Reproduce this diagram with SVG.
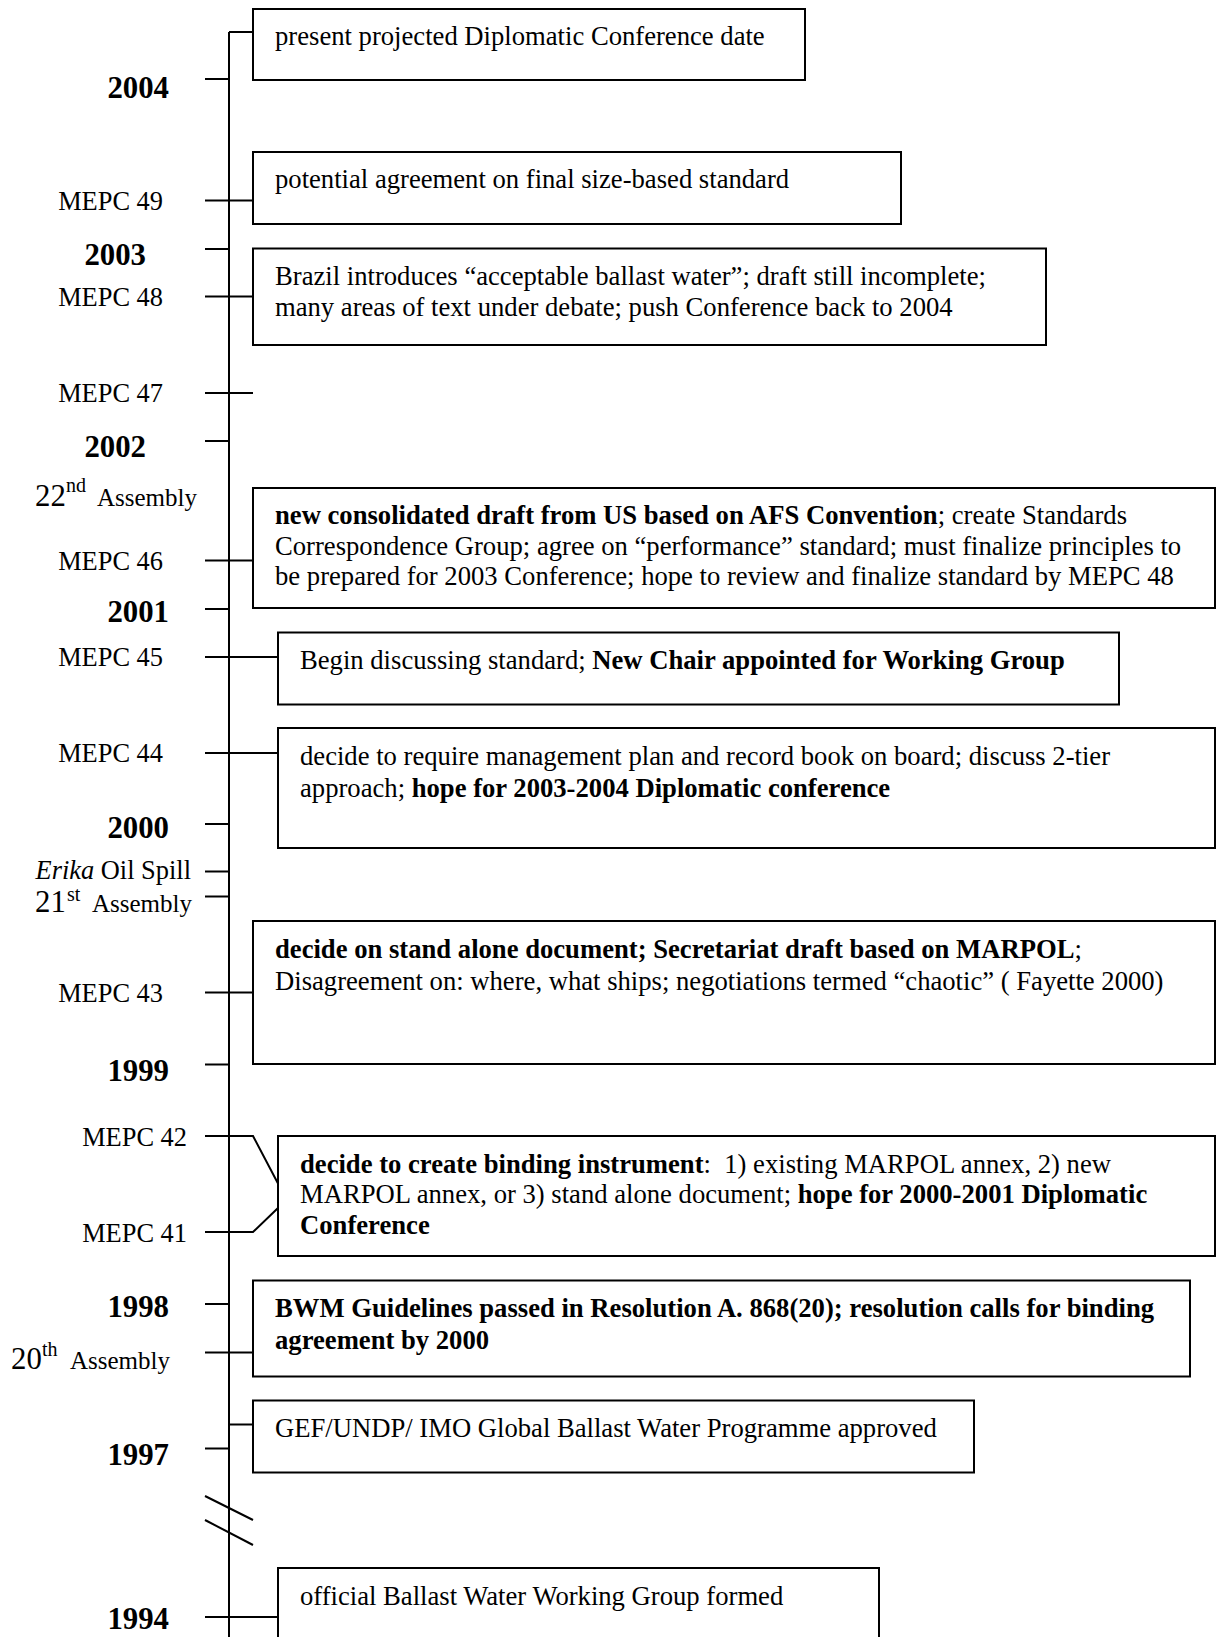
<svg xmlns="http://www.w3.org/2000/svg" width="1218" height="1637" viewBox="0 0 1218 1637">
<style>
text{font-family:"Liberation Serif","Times New Roman",serif;fill:#000}
.t{font-size:26.65px}
.b{font-weight:bold}
.yr{font-size:30.8px;font-weight:bold;text-anchor:end}
.lb{font-size:26.4px;text-anchor:end}
.big{font-size:30.8px}
.sup{font-size:20px}
.asm{font-size:25px}
.box{fill:#fff;stroke:#000;stroke-width:2}
.ln{fill:none;stroke:#000;stroke-width:2}
</style>
<rect width="1218" height="1637" fill="#fff"/>
<g id="connectors">
<path class="ln" d="M229,32 V1637"/>
<path class="ln" d="M229,32 H253"/>
<path class="ln" d="M205,79 H229"/>
<path class="ln" d="M205,200.5 H253"/>
<path class="ln" d="M205,249 H229"/>
<path class="ln" d="M205,296.5 H253"/>
<path class="ln" d="M205,393 H253"/>
<path class="ln" d="M205,441 H229"/>
<path class="ln" d="M205,560.5 H253"/>
<path class="ln" d="M205,609 H229"/>
<path class="ln" d="M205,657 H278"/>
<path class="ln" d="M205,753 H278"/>
<path class="ln" d="M205,824 H229"/>
<path class="ln" d="M205,871.5 H229"/>
<path class="ln" d="M205,896.5 H229"/>
<path class="ln" d="M205,992.5 H253"/>
<path class="ln" d="M205,1064.5 H229"/>
<path class="ln" d="M205,1136 H253 L278,1183.5"/>
<path class="ln" d="M205,1232 H253 L278,1208"/>
<path class="ln" d="M205,1304 H229"/>
<path class="ln" d="M205,1352.5 H253"/>
<path class="ln" d="M229,1424.5 H253"/>
<path class="ln" d="M205,1448.5 H229"/>
<path class="ln" d="M205,1496 L253,1520"/>
<path class="ln" d="M205,1520 L253,1545"/>
<path class="ln" d="M205,1617 H278"/>
</g>
<g id="labels">
<g id="y2004"><text class="yr" x="169" y="98">2004</text></g>
<g id="mepc49"><text class="lb" x="163" y="210">MEPC 49</text></g>
<g id="y2003"><text class="yr" x="146" y="265">2003</text></g>
<g id="mepc48"><text class="lb" x="163" y="306">MEPC 48</text></g>
<g id="mepc47"><text class="lb" x="163" y="402">MEPC 47</text></g>
<g id="y2002"><text class="yr" x="146" y="457">2002</text></g>
<g id="a22"><text class="big" x="35" y="506">22</text><text class="sup" x="66" y="492">nd</text><text class="asm" x="97" y="506">Assembly</text></g>
<g id="mepc46"><text class="lb" x="163" y="570">MEPC 46</text></g>
<g id="y2001"><text class="yr" x="169" y="622">2001</text></g>
<g id="mepc45"><text class="lb" x="163" y="666">MEPC 45</text></g>
<g id="mepc44"><text class="lb" x="163" y="762">MEPC 44</text></g>
<g id="y2000"><text class="yr" x="169" y="838">2000</text></g>
<g id="erika"><text class="lb" x="191" y="879"><tspan font-style="italic">Erika</tspan> Oil Spill</text></g>
<g id="a21"><text class="big" x="35" y="912">21</text><text class="sup" x="67" y="901" font-size="19">st</text><text class="asm" x="92" y="912">Assembly</text></g>
<g id="mepc43"><text class="lb" x="163" y="1002">MEPC 43</text></g>
<g id="y1999"><text class="yr" x="169" y="1081">1999</text></g>
<g id="mepc42"><text class="lb" x="187" y="1146">MEPC 42</text></g>
<g id="mepc41"><text class="lb" x="187" y="1242">MEPC 41</text></g>
<g id="y1998"><text class="yr" x="169" y="1317">1998</text></g>
<g id="a20"><text class="big" x="11" y="1369">20</text><text class="sup" x="42" y="1356">th</text><text class="asm" x="70" y="1369">Assembly</text></g>
<g id="y1997"><text class="yr" x="169" y="1465">1997</text></g>
<g id="y1994"><text class="yr" x="169" y="1629">1994</text></g>
</g>
<g id="box1"><rect class="box" x="253" y="9" width="552" height="71"/><text class="t" x="275" y="45">present projected Diplomatic Conference date</text></g>
<g id="box2"><rect class="box" x="253" y="152" width="648" height="72"/><text class="t" x="275" y="188">potential agreement on final size-based standard</text></g>
<g id="box3"><rect class="box" x="253" y="248.5" width="793" height="96.5"/><text class="t" x="275" y="284.5">Brazil introduces “acceptable ballast water”; draft still incomplete;</text><text class="t" x="275" y="315.5">many areas of text under debate; push Conference back to 2004</text></g>
<g id="box4"><rect class="box" x="253" y="488" width="962" height="120"/><text class="t" x="275" y="524"><tspan class="b">new consolidated draft from US based on AFS Convention</tspan>; create Standards</text><text class="t" x="275" y="554.5">Correspondence Group; agree on “performance” standard; must finalize principles to</text><text class="t" x="275" y="585">be prepared for 2003 Conference; hope to review and finalize standard by MEPC 48</text></g>
<g id="box5"><rect class="box" x="278" y="632.5" width="841" height="72"/><text class="t" x="300" y="669">Begin discussing standard; <tspan class="b">New Chair appointed for Working Group</tspan></text></g>
<g id="box6"><rect class="box" x="278" y="728" width="937" height="120"/><text class="t" x="300" y="765">decide to require management plan and record book on board; discuss 2-tier</text><text class="t" x="300" y="796.5">approach; <tspan class="b">hope for 2003-2004 Diplomatic conference</tspan></text></g>
<g id="box7"><rect class="box" x="253" y="921" width="962" height="143"/><text class="t" x="275" y="958"><tspan class="b">decide on stand alone document; Secretariat draft based on MARPOL</tspan>;</text><text class="t" x="275" y="990">Disagreement on: where, what ships; negotiations termed “chaotic” ( Fayette 2000)</text></g>
<g id="box8"><rect class="box" x="278" y="1136" width="937" height="120"/><text class="t" x="300" y="1173" xml:space="preserve"><tspan class="b">decide to create binding instrument</tspan>:  1) existing MARPOL annex, 2) new</text><text class="t" x="300" y="1203">MARPOL annex, or 3) stand alone document; <tspan class="b">hope for 2000-2001 Diplomatic</tspan></text><text class="t b" x="300" y="1234">Conference</text></g>
<g id="box9"><rect class="box" x="253" y="1280.5" width="937" height="96"/><text class="t b" x="275" y="1317">BWM Guidelines passed in Resolution A. 868(20); resolution calls for binding</text><text class="t b" x="275" y="1349">agreement by 2000</text></g>
<g id="box10"><rect class="box" x="253" y="1400.5" width="721" height="72"/><text class="t" x="275" y="1437">GEF/UNDP/ IMO Global Ballast Water Programme approved</text></g>
<g id="box11"><rect class="box" x="278" y="1568" width="601" height="100"/><text class="t" x="300" y="1605">official Ballast Water Working Group formed</text></g>
</svg>
